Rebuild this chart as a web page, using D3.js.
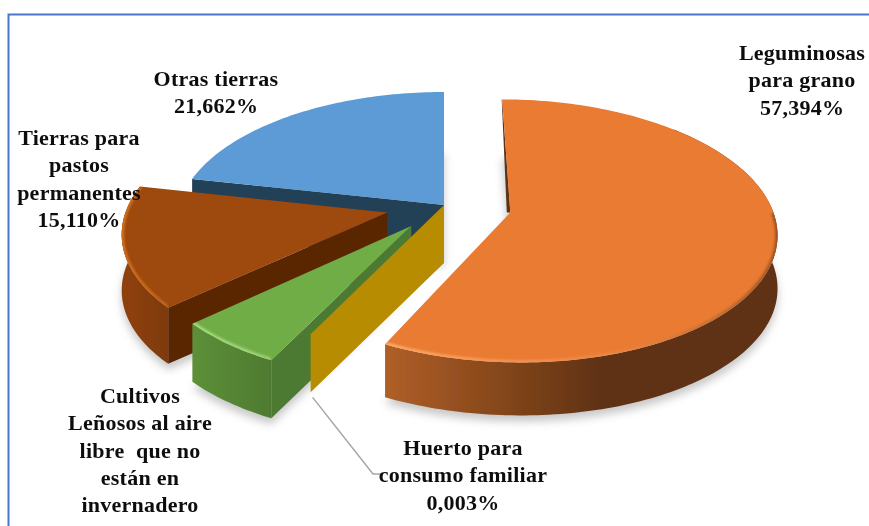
<!DOCTYPE html>
<html><head><meta charset="utf-8">
<script src="https://cdn.jsdelivr.net/npm/d3@7"></script>
<style>html,body{margin:0;padding:0;background:#fff;overflow:hidden}svg{display:block}</style>
</head><body><svg id="c" width="869" height="526"></svg>
<script>
const categories=["Leguminosas para grano","Huerto para consumo familiar","Cultivos Leñosos al aire libre que no están en invernadero","Tierras para pastos permanentes","Otras tierras"];
const values=[57.394,0.003,5.831,15.110,21.662];
const labelLines=[["Leguminosas","para grano","57,394%"],["Huerto para","consumo familiar","0,003%"],["Cultivos","Leñosos al aire","libre  que no","están en","invernadero","5,831%"],["Tierras para","pastos","permanentes","15,110%"],["Otras tierras","21,662%"]];
const topColors=["#E97B33","#C59700","#70AD47","#9E480E","#5B9BD5"];
const faceColors=["#5F3214","#B78C00","#4E7A31","#5A2606","#243F57"];
const wallStops=[[["0","#B05F28"],[".3","#84461A"],[".55","#5F3214"],["1","#5F3214"]],[["0","#B78C00"],["1","#B78C00"]],[["0","#5C9038"],["1","#4E7A31"]],[["0","#8F410D"],["1","#7E3A0C"]],[["0","#3F6E99"],["1","#3F6E99"]]];
const rimColors=["#FFA768","#E0B000","#A9DD80","#D0701F","#7FB5E5"];
const explode=[0.255,0,0.2,0.22,0];
const radiusFactor=[0.985,0.985,0.975,0.98,1];
const wallDepth=[53,58,58,56,56];
const labelAt=[[802,60],[463,455],[140,403],[79,145],[216,86]];

const svg=d3.select("#c");
const CX=444,CY=205,R=265,B=128.8,P=0.14;
const rx=d3.scaleLinear().domain([-1,1]).range([-R,R]);
const project=(X,Y,z=0)=>{const s=1/(1-P*Y);return [CX+rx(X)*s,CY+B*Y*s+z];};
const pie=d3.pie().sort(null).value(d=>d).startAngle(0).endAngle(2*Math.PI);
const arcs=pie(values);
const line=d3.line();
const rimPts=(a0,a1,ex,ey,z,f)=>{const n=Math.max(1,Math.ceil((a1-a0)/0.02));
  return d3.range(n+1).map(i=>{const a=a0+(a1-a0)*i/n;return project(ex+f*Math.sin(a),ey-f*Math.cos(a),z);});};

const defs=svg.append("defs");
defs.append("filter").attr("id","shadow").attr("x","-20%").attr("y","-20%").attr("width","140%").attr("height","140%")
  .append("feGaussianBlur").attr("stdDeviation",4);
defs.append("filter").attr("id","bevel").attr("x","-20%").attr("y","-20%").attr("width","140%").attr("height","140%")
  .append("feGaussianBlur").attr("stdDeviation",1.3);
defs.append("filter").attr("id","soft").append("feGaussianBlur").attr("stdDeviation",0.45);
arcs.forEach((d,i)=>{
  const g=defs.append("linearGradient").attr("id","wall"+i).attr("gradientUnits","objectBoundingBox");
  wallStops[i].forEach(s=>g.append("stop").attr("offset",s[0]).attr("stop-color",s[1]));
  const r=defs.append("linearGradient").attr("id","rim"+i);
  r.append("stop").attr("offset","0").attr("stop-color",rimColors[i]);
  r.append("stop").attr("offset",i==0?".55":"1").attr("stop-color",rimColors[i]).attr("stop-opacity",i==0?.25:.7);
  r.append("stop").attr("offset","1").attr("stop-color","#5F3214").attr("stop-opacity",i==0?.55:.7);
});

// frame
svg.append("path").attr("d",line([[869,14.5],[8.5,14.5],[8.5,526]])).attr("fill","none").attr("stroke","#4A76CC").attr("stroke-width",2);

const order=[4,3,2,1,0];
const pieG=svg.append("g").attr("filter","url(#soft)");
// ground shadows
order.forEach(i=>{const d=arcs[i];if(i==1)return;
  const f=radiusFactor[i],mid=(d.startAngle+d.endAngle)/2,ex=explode[i]*Math.sin(mid),ey=-explode[i]*Math.cos(mid);
  const pts=[project(ex,ey,wallDepth[i]+6),...rimPts(d.startAngle,d.endAngle,ex,ey,wallDepth[i]+6,f)];
  pieG.append("path").attr("d",line(pts)+"Z").attr("fill","#9a9a9a").attr("opacity",.55).attr("filter","url(#shadow)");
});
order.forEach(i=>{
  const d=arcs[i],H=wallDepth[i],f=radiusFactor[i],mid=(d.startAngle+d.endAngle)/2,ex=explode[i]*Math.sin(mid),ey=-explode[i]*Math.cos(mid);
  const g=pieG.append("g");
  const apex=project(ex,ey),apexB=project(ex,ey,H);
  const rim=rimPts(d.startAngle,d.endAngle,ex,ey,0,f);
  const wallStart=i==0?Math.PI/4:d.startAngle;
  const wallTop=rimPts(wallStart,d.endAngle,ex,ey,0,f),wallBot=rimPts(wallStart,d.endAngle,ex,ey,H,f);
  // cut face along the start of the slice
  const s=rim[0],sB=project(ex+f*Math.sin(d.startAngle),ey-f*Math.cos(d.startAngle),H);
  if(i!=0) g.append("path").attr("d",line([apex,s,sB,apexB])+"Z").attr("fill",faceColors[i]);
  else g.append("path").attr("d",line([s,apex,[apex[0]-3.5,apex[1]],[s[0]-.5,s[1]]])+"Z").attr("fill",faceColors[i]);
  if(i==1) return;
  // outer wall (the back slice shows none)
  if(i!=4) g.append("path").attr("d",line([...wallTop,...wallBot.slice().reverse()])+"Z").attr("fill",`url(#wall${i})`);
  // top face
  const top=line([apex,...rim])+"Z";
  g.append("path").attr("d",top).attr("fill",topColors[i]);
  // bevel highlight on the rim, only where it faces the viewer
  if(i!=4){
    const cid="clip"+i;
    defs.append("clipPath").attr("id",cid).append("path").attr("d",top);
    g.append("g").attr("clip-path",`url(#${cid})`).append("path")
      .attr("d",line(rimPts(Math.max(d.startAngle,Math.PI/2),d.endAngle,ex,ey,0,f)))
      .attr("fill","none").attr("stroke",`url(#rim${i})`).attr("stroke-width",5).attr("filter","url(#bevel)");
  }
});

// leader line for the thinnest slice
const lead=project(radiusFactor[1]*Math.sin(arcs[1].startAngle),-radiusFactor[1]*Math.cos(arcs[1].startAngle),wallDepth[1]);
pieG.append("path").attr("d",line([[lead[0]+2,lead[1]+5],[labelAt[1][0]-90,labelAt[1][1]+19],[labelAt[1][0]-82,labelAt[1][1]+19]]))
  .attr("fill","none").attr("stroke","#A6A6A6").attr("stroke-width",1.5);

// labels
const tg=svg.append("g").attr("filter","url(#soft)").attr("font-family","'Liberation Serif',serif").attr("font-weight","bold").attr("font-size",22).attr("letter-spacing",0.25).attr("fill","#111").attr("text-anchor","middle");
labelLines.forEach((ls,i)=>{
  const t=tg.append("text").attr("x",labelAt[i][0]).attr("y",labelAt[i][1]).attr("xml:space","preserve").style("white-space","pre");
  ls.forEach((l,j)=>t.append("tspan").attr("x",labelAt[i][0]).attr("y",labelAt[i][1]+j*27.3).text(l));
});
</script></body></html>
